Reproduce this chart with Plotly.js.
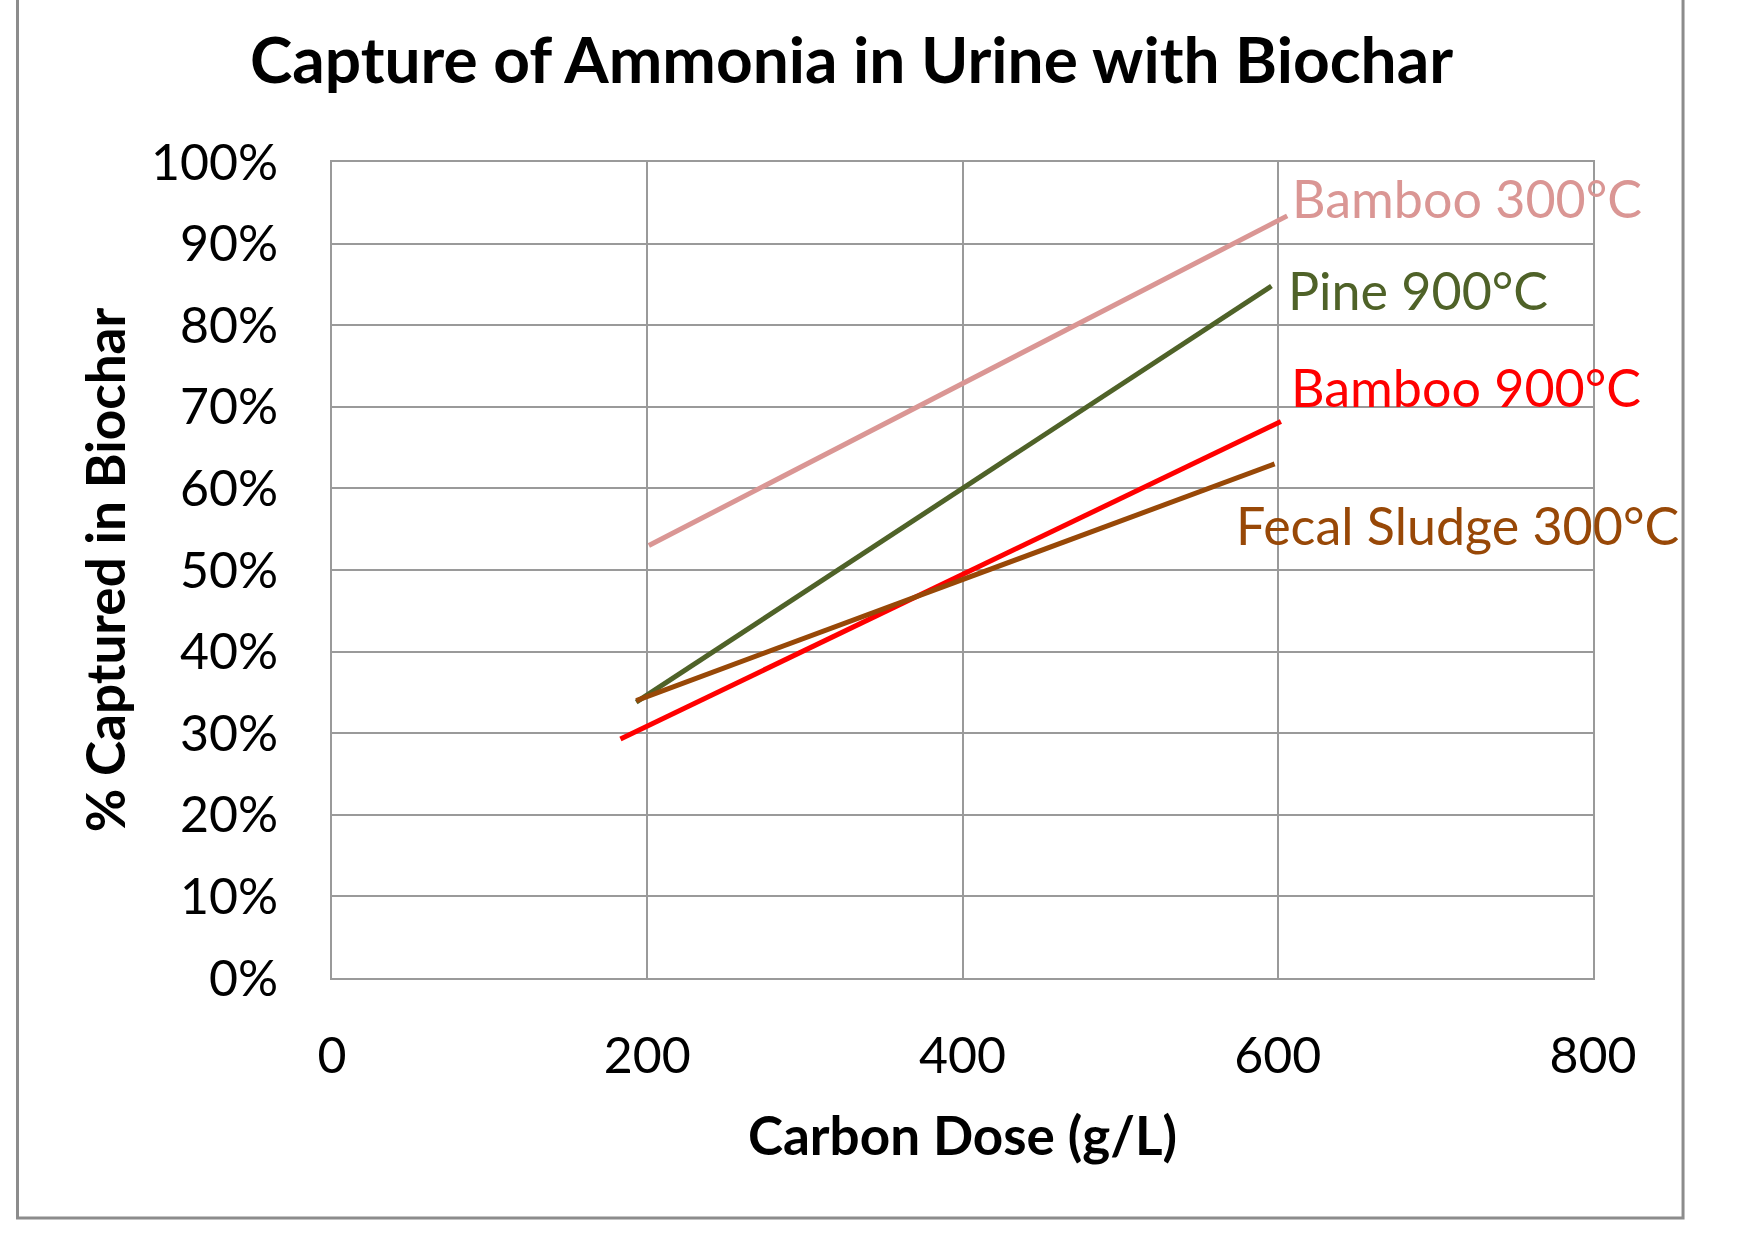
<!DOCTYPE html>
<html>
<head>
<meta charset="utf-8">
<script src="https://cdn.plot.ly/plotly-3.0.1.min.js"></script>
<style>
  html, body { margin: 0; padding: 0; background: #ffffff; }
  #chart { width: 1752px; height: 1245px; }
</style>
</head>
<body>
<div id="chart"></div>
<script>
// Data
const seriesNames = ["Bamboo 300°C", "Pine 900°C", "Bamboo 900°C", "Fecal Sludge 300°C"];
const bamboo300X = [201, 606];
const bamboo300Y = [53.0, 93.4];
const pine900X = [193, 596];
const pine900Y = [33.8, 84.8];
const bamboo900X = [183, 602];
const bamboo900Y = [29.3, 68.2];
const fecal300X = [193, 598];
const fecal300Y = [34.0, 63.0];

const xTicks = [0, 200, 400, 600, 800];
const yTicks = [0, 10, 20, 30, 40, 50, 60, 70, 80, 90, 100];

const colors = ["#DA9694", "#4F6228", "#FF0000", "#984807"];
const FONT = "Lato, 'Open Sans', sans-serif";

const xs = [bamboo300X, pine900X, bamboo900X, fecal300X];
const ys = [bamboo300Y, pine900Y, bamboo900Y, fecal300Y];

const traces = seriesNames.map((name, i) => ({
  type: "scatter",
  mode: "lines",
  name: name,
  x: xs[i],
  y: ys[i],
  line: { color: colors[i], width: 5 },
  hoverinfo: "skip"
}));

// label positions (data coordinates)
const labelPos = [
  { x: 608, y: 95.6 },
  { x: 605, y: 84.3 },
  { x: 607, y: 72.4 },
  { x: 572, y: 55.5 }
];

const annotations = seriesNames.map((name, i) => ({
  xref: "x", yref: "y",
  x: labelPos[i].x, y: labelPos[i].y,
  xanchor: "left", yanchor: "middle",
  text: name,
  showarrow: false,
  font: { family: FONT, size: 52, color: colors[i] }
}));

const layout = {
  width: 1752,
  height: 1245,
  paper_bgcolor: "#ffffff",
  plot_bgcolor: "#ffffff",
  showlegend: false,
  margin: { l: 332, r: 159, t: 162, b: 267 },
  title: {
    text: "Capture of Ammonia in Urine with Biochar",
    font: { family: FONT, size: 64, color: "#000000", weight: "bold" },
    x: 0.486, xanchor: "center",
    y: 0.951, yanchor: "middle",
    xref: "container", yref: "container"
  },
  xaxis: {
    range: [0, 800],
    tickvals: xTicks,
    ticktext: xTicks.map(String),
    showgrid: true,
    gridcolor: "#9a9a9a",
    gridwidth: 2,
    showline: true,
    linecolor: "#9a9a9a",
    linewidth: 2,
    mirror: true,
    zeroline: false,
    ticks: "outside",
    ticklen: 33,
    tickcolor: "rgba(0,0,0,0)",
    tickfont: { family: FONT, size: 50, color: "#000000" },
    title: {
      text: "Carbon Dose (g/L)",
      font: { family: FONT, size: 53, color: "#000000", weight: "bold" },
      standoff: 35
    },
    fixedrange: true
  },
  yaxis: {
    range: [0, 100],
    tickvals: yTicks,
    ticktext: yTicks.map(v => v + "%"),
    showgrid: true,
    gridcolor: "#9a9a9a",
    gridwidth: 2,
    showline: true,
    linecolor: "#9a9a9a",
    linewidth: 2,
    mirror: true,
    zeroline: false,
    ticks: "outside",
    ticklen: 42,
    tickcolor: "rgba(0,0,0,0)",
    tickfont: { family: FONT, size: 50, color: "#000000" },
    title: {
      text: "% Captured in Biochar",
      font: { family: FONT, size: 53, color: "#000000", weight: "bold" },
      standoff: 8
    },
    fixedrange: true
  },
  annotations: annotations,
  shapes: [
    {
      type: "rect", layer: "below",
      xref: "paper", yref: "paper",
      x0: -0.2494, x1: 1.0714, y0: -0.2941, y1: 1.25,
      line: { color: "#8c8c8c", width: 3 },
      fillcolor: "rgba(0,0,0,0)"
    }
  ]
};

Plotly.newPlot("chart", traces, layout, { displayModeBar: false, staticPlot: true });
</script>
</body>
</html>
